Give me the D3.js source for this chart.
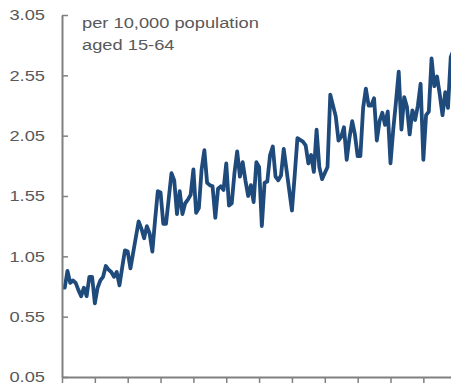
<!DOCTYPE html>
<html>
<head>
<meta charset="utf-8">
<script src="https://cdn.jsdelivr.net/npm/d3@7"></script>
<style>
  body { margin: 0; background: #fff; }
  svg { display: block; }
  .lbl { font-family: "Liberation Sans", Arial, sans-serif; fill: #595959; }
</style>
</head>
<body>
<div id="chart"></div>
<script>
const months = [0,1,2,3,4,5,6,7,8,9,10,11,12,13,14,15,16,17,18,19,20,21,22,23,24,25,26,27,28,29,30,31,32,33,34,35,36,37,38,39,40,41,42,43,44,45,46,47,48,49,50,51,52,53,54,55,56,57,58,59,60,61,62,63,64,65,66,67,68,69,70,71,72,73,74,75,76,77,78,79,80,81,84,85,86,88,89,90,91,92,93,94,95,97,98,100,101,102,103,104,105,106,107,108,109,110,111,112,113,114,115,116,117,118,119,120,121,122,123,124,125,126,127,128,129,130,131,132,133,134,135,136,137,138,139,140,141,142,143];
const values = [0.79,0.79,0.93,0.83,0.85,0.83,0.77,0.72,0.79,0.72,0.88,0.88,0.66,0.79,0.85,0.88,0.97,0.94,0.92,0.88,0.92,0.81,0.96,1.10,1.09,0.95,1.08,1.21,1.34,1.28,1.20,1.30,1.24,1.09,1.35,1.59,1.58,1.32,1.32,1.53,1.74,1.68,1.40,1.59,1.40,1.49,1.52,1.56,1.77,1.41,1.45,1.77,1.93,1.66,1.64,1.63,1.37,1.61,1.63,1.60,1.82,1.47,1.49,1.74,1.92,1.71,1.83,1.68,1.55,1.64,1.50,1.83,1.79,1.30,1.66,1.67,1.89,1.96,1.71,1.68,1.72,1.94,1.43,1.72,2.03,2.00,1.97,1.82,1.89,1.75,2.10,1.79,1.69,1.79,2.39,2.21,2.01,2.04,2.12,1.85,2.03,2.17,2.06,1.88,1.88,2.28,2.44,2.30,2.30,2.36,2.01,2.17,2.24,2.14,2.25,1.82,2.10,2.33,2.58,2.10,2.37,2.29,2.06,2.26,2.18,2.30,2.48,1.85,2.22,2.25,2.69,2.46,2.54,2.39,2.22,2.41,2.28,2.70,2.76];

const yTicks = [0.05,0.55,1.05,1.55,2.05,2.55,3.05];
const xTicks = [0,12,24,36,48,60,72,84,96,108,120,132];
const noteLines = ["per 10,000 population", "aged 15-64"];

const width = 451, height = 392;
const plotLeft = 62, plotRight = 451, plotTop = 15, plotBottom = 377;
const fs = 15.5, sx = 1.18; // labels are drawn a little wide in the original

const svg = d3.select("#chart").append("svg")
    .attr("width", width)
    .attr("height", height);

const x = d3.scaleLinear().domain([0, 142.1]).range([plotLeft, plotRight]);
const y = d3.scaleLinear().domain([0.05, 3.05]).range([plotBottom, plotTop]);

// clip so the last point runs off the right edge like the original
svg.append("clipPath").attr("id", "plot")
  .append("rect").attr("x", plotLeft).attr("y", 0)
    .attr("width", plotRight - plotLeft).attr("height", plotBottom);

const data = months.map((m, i) => ({m: m, v: values[i]}));

svg.append("path")
    .datum(data)
    .attr("clip-path", "url(#plot)")
    .attr("fill", "none")
    .attr("stroke", "#1f4a7c")
    .attr("stroke-width", 3.8)
    .attr("stroke-linejoin", "round")
    .attr("stroke-linecap", "round")
    .attr("d", d3.line().x(d => x(d.m)).y(d => y(d.v)));

// y axis: ticks point inwards, labels on the left
const yAxis = svg.append("g")
    .attr("transform", `translate(${plotLeft},0)`)
    .call(d3.axisLeft(y).tickValues(yTicks).tickFormat(d3.format(".2f"))
      .tickSizeInner(-6).tickSizeOuter(0).tickPadding(17));

// x axis: tick marks only
const xAxis = svg.append("g")
    .attr("transform", `translate(0,${plotBottom})`)
    .call(d3.axisBottom(x).tickValues(xTicks).tickFormat("")
      .tickSize(6).tickSizeOuter(0));

[yAxis, xAxis].forEach(g => {
  g.select(".domain").attr("stroke", "#808080").attr("stroke-width", 2);
  g.selectAll(".tick line").attr("stroke", "#808080").attr("stroke-width", 1.5);
});

yAxis.selectAll(".tick text")
    .attr("class", "lbl")
    .attr("fill", "#595959")
    .attr("font-size", fs)
    .attr("transform", `scale(${sx},1)`)
    .attr("x", -17 / sx);

svg.append("g").selectAll("text")
  .data(noteLines)
  .join("text")
    .attr("class", "lbl")
    .attr("font-size", fs)
    .attr("transform", (d, i) => `translate(82,${28 + i * 22}) scale(${sx},1)`)
    .text(d => d);
</script>
</body>
</html>
